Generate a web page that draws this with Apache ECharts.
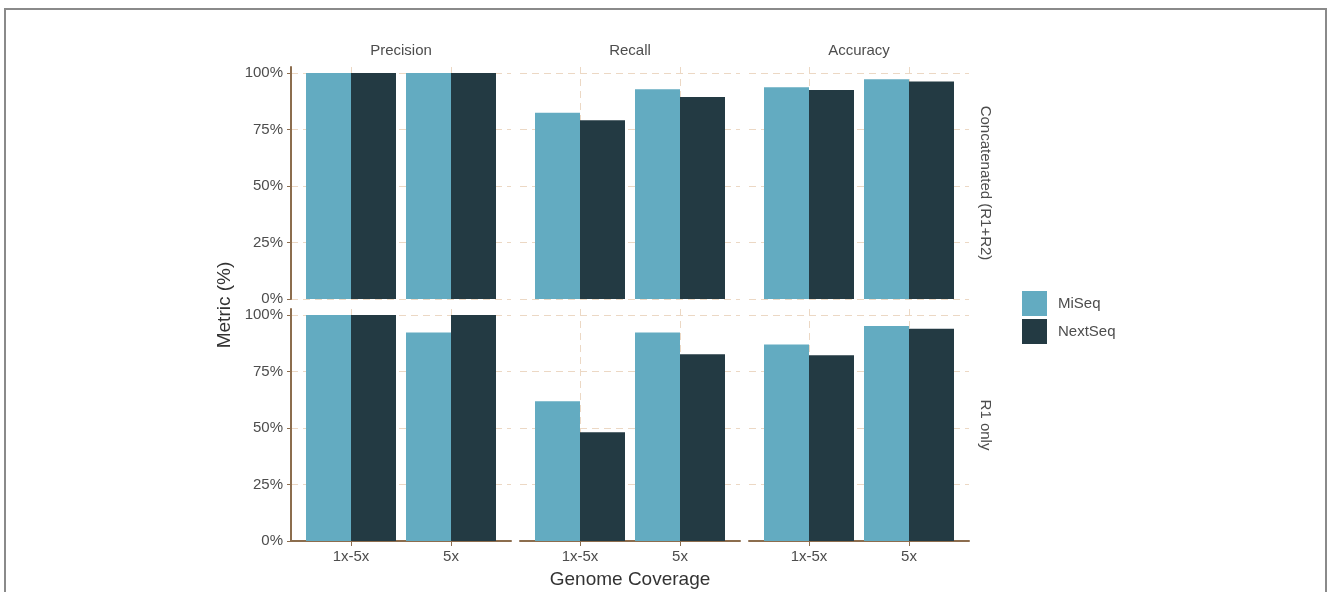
<!DOCTYPE html>
<html>
<head>
<meta charset="utf-8">
<script src="https://cdn.jsdelivr.net/npm/echarts@6/dist/echarts.min.js"></script>
<style>
  html, body { margin: 0; padding: 0; background: #fff; }
  #chart { width: 1328px; height: 592px; }
</style>
</head>
<body>
<div id="chart"></div>
<script>
// facets: columns = metric, rows = read mode
const coverage = ['1x-5x', '5x'];
const metrics = ['Precision', 'Recall', 'Accuracy'];
const readModes = ['Concatenated (R1+R2)', 'R1 only'];
const platforms = ['MiSeq', 'NextSeq'];
const yTicks = [0, 25, 50, 75, 100];

// values in %, [metric][coverage]
const miseqConcat = [[100, 100], [82.4, 92.8], [93.7, 97.2]];
const nextseqConcat = [[100, 100], [79.1, 89.4], [92.5, 96.2]];
const miseqR1 = [[100, 92.3], [61.8, 92.3], [86.9, 95.1]];
const nextseqR1 = [[100, 100], [48.1, 82.6], [82.2, 93.9]];

const values = [
  [miseqConcat, nextseqConcat],
  [miseqR1, nextseqR1]
];

const colors = ['#63abc1', '#233a43'];
const axisBrown = '#8c6d4e';
const gridCol = '#ecd8c4';
const font = 'Liberation Sans, Arial, sans-serif';

const colLeft = [291, 520, 749];
const rowTop = [67, 309];
const panelW = 220, panelH = 232;

const chart = echarts.init(document.getElementById('chart'));

const grids = [], xAxes = [], yAxes = [], series = [];

readModes.forEach(function (mode, r) {
  metrics.forEach(function (m, c) {
    const idx = r * 3 + c;
    const isBottom = r === readModes.length - 1;
    const isLeft = c === 0;
    grids.push({ left: colLeft[c], top: rowTop[r], width: panelW, height: panelH });

    xAxes.push({
      type: 'value', gridIndex: idx, min: 0.4, max: 2.6,
      axisLine: { show: isBottom, onZero: false, lineStyle: { color: axisBrown, width: 2 } },
      axisTick: { show: isBottom, length: 5, customValues: [1, 2], lineStyle: { color: axisBrown, width: 1 } },
      axisLabel: {
        show: isBottom, customValues: [1, 2], margin: 8,
        color: '#4d4d4d', fontSize: 15, fontFamily: font,
        formatter: function (v) { return coverage[Math.round(v) - 1]; }
      },
      splitLine: { show: true, lineStyle: { color: gridCol, type: [7, 5], width: 1 } }
    });

    yAxes.push({
      type: 'value', gridIndex: idx, min: 0, max: 100 + 6 / 2.26,
      axisLine: { show: isLeft, lineStyle: { color: axisBrown, width: 2 } },
      axisTick: { show: isLeft, length: 4, customValues: yTicks, lineStyle: { color: axisBrown, width: 1 } },
      axisLabel: {
        show: isLeft, customValues: yTicks, margin: 8,
        color: '#4d4d4d', fontSize: 15, fontFamily: font,
        formatter: function (v) { return v + '%'; }
      },
      splitLine: { show: true, lineStyle: { color: gridCol, type: [7, 5], width: 1 } }
    });

    platforms.forEach(function (p, k) {
      series.push({
        type: 'bar', name: p,
        xAxisIndex: idx, yAxisIndex: idx,
        barWidth: 45, barGap: '0%',
        itemStyle: { color: colors[k] },
        data: coverage.map(function (cv, i) { return [i + 1, values[r][k][c][i]]; })
      });
    });
  });
});

const graphics = [
  { type: 'rect', shape: { x: 5, y: 9, width: 1321, height: 600 }, style: { fill: null, stroke: '#8a8a8a', lineWidth: 2 }, silent: true }
];
metrics.forEach(function (m, c) {
  graphics.push({
    type: 'text', x: colLeft[c] + panelW / 2, y: 51,
    style: { text: m, fontSize: 15, fontFamily: font, fill: '#4d4d4d', align: 'center', verticalAlign: 'middle' }
  });
});
readModes.forEach(function (mode, r) {
  graphics.push({
    type: 'text', x: 985, y: rowTop[r] + panelH / 2, rotation: -Math.PI / 2,
    style: { text: mode, fontSize: 15, fontFamily: font, fill: '#4d4d4d', align: 'center', verticalAlign: 'middle' }
  });
});
graphics.push({
  type: 'text', x: 225, y: 305, rotation: Math.PI / 2,
  style: { text: 'Metric (%)', fontSize: 19, fontFamily: font, fill: '#333', align: 'center', verticalAlign: 'middle' }
});
graphics.push({
  type: 'text', x: 630, y: 580,
  style: { text: 'Genome Coverage', fontSize: 19, fontFamily: font, fill: '#333', align: 'center', verticalAlign: 'middle' }
});

chart.setOption({
  animation: false,
  backgroundColor: '#fff',
  grid: grids,
  xAxis: xAxes,
  yAxis: yAxes,
  legend: {
    data: platforms, orient: 'vertical', left: 1022, top: 291, padding: 0,
    itemWidth: 25, itemHeight: 25, itemGap: 3, icon: 'rect',
    textStyle: { fontSize: 15, fontFamily: font, color: '#4d4d4d', padding: [0, 0, 0, 6] },
    selectedMode: false
  },
  graphic: graphics,
  series: series
});
</script>
</body>
</html>
